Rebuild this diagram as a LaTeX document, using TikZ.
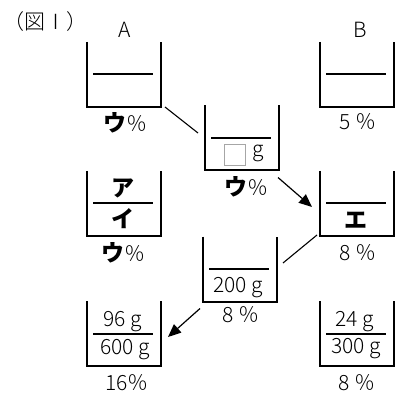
\documentclass[tikz,border=0pt]{standalone}
\usepackage{fontspec}
\setmainfont{Noto Sans CJK JP}
\newfontfamily\thinjp{Noto Sans CJK JP Light}
\usetikzlibrary{arrows.meta,calc}
\newcommand\cupwalls[1]{%
  \draw[wall] (#1.north west) -- (#1.south west) -- (#1.south east) -- (#1.north east);
  \draw[wall] ($(#1.west)+(6,0)$) -- ($(#1.east)+(-8,0)$);}
\newcommand\pct{\thinjp\mdseries\fontsize{21}{24}\selectfont ％}
\begin{document}
\begin{tikzpicture}[x=1pt,y=-1pt,
  cup/.style={minimum width=74pt,minimum height=65pt,inner sep=0pt,outer sep=0pt},
  wall/.style={line width=2pt},
  link/.style={line width=1.1pt},
  flow/.style={line width=1.2pt,-{Triangle[length=13pt,width=11pt]}},
  lbl/.style={inner sep=0pt,font=\thinjp\fontsize{21}{24}\selectfont},
  kana/.style={inner sep=0pt,font=\fontsize{23}{26}\selectfont\bfseries},
  head/.style={inner sep=0pt,font=\thinjp\fontsize{21}{24}\selectfont}]
\useasboundingbox (0,0) rectangle (397,396);

% beakers
\node[cup] (A)  at (124,74.5) {};
\node[cup] (B)  at (357,74.5) {};
\node[cup] (M1) at (242,138) {};
\node[cup] (L2) at (124,203.5) {};
\node[cup] (E)  at (357,203.5) {};
\node[cup] (M2) at (240,269) {};
\node[cup] (BL) at (124,333.5) {};
\node[cup] (BR) at (357,333.5) {};
\foreach \c in {A,B,M1,L2,E,M2,BL,BR} {\cupwalls{\c}}

% headings
\node[head] (fig) at (46,22) {（図Ⅰ）};
\node[head] (ta) at (125,30) {A};
\node[head] (tb) at (360,29.5) {B};

% contents and concentrations
\node[kana] (pa) at (125,122.5) {ウ\pct};
\node[lbl]  (pb) at (358,122) {5 ％};
\node[draw=gray!70,line width=0.8pt,minimum size=21pt,inner sep=0pt] (box) at (235,155) {};
\node[lbl]  (g1) at (258,153) {g};
\node[kana] (p1) at (246,187) {ウ\pct};
\node[kana] (ka) at (123,188) {ア};
\node[kana] (ki) at (123,219) {イ};
\node[kana] (p2) at (123,253) {ウ\pct};
\node[kana] (ke) at (356,220) {エ};
\node[lbl]  (pe) at (358,253) {8 ％};
\node[lbl]  (w2) at (238,288) {200 g};
\node[lbl]  (p3) at (241,315) {8 ％};
\node[lbl]  (s1) at (123,322) {96 g};
\node[lbl]  (s2) at (125,350) {600 g};
\node[lbl]  (p4) at (127,383) {16％};
\node[lbl]  (s3) at (355,322) {24 g};
\node[lbl]  (s4) at (356,349) {300 g};
\node[lbl]  (p5) at (357,383) {8 ％};

% connectors
\draw[link] ($(A.south east)+(4,0)$) -- ($(M1.west)+(-7,-5)$);
\draw[flow] ($(M1.south east)+(-1,7)$) -- ($(E.west)+(-8,3.5)$);
\draw[link] ($(E.south west)+(-3,-1)$) -- ($(M2.east)+(6,-6)$);
\draw[flow] ($(M2.south west)+(-3,7)$) -- ($(BL.east)+(7,3.5)$);
\end{tikzpicture}
\end{document}
